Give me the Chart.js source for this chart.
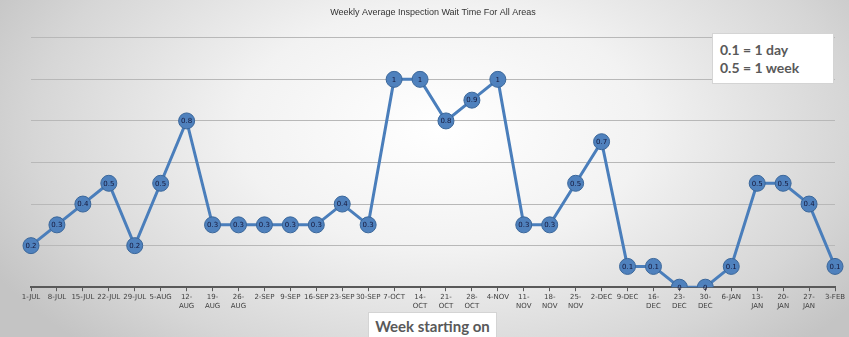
<!DOCTYPE html>
<html lang="en">
<head>
  <meta charset="UTF-8">
  <title>Weekly Average Inspection Wait Time For All Areas</title>
  <script src="https://cdn.jsdelivr.net/npm/chart.js"></script>
  <style>
    html, body { margin: 0; padding: 0; }
    body {
      width: 849px; height: 337px; overflow: hidden; position: relative;
      background: radial-gradient(ellipse 60% 90% at 52% 38%, #ffffff 0%, #f2f2f2 40%, #d6d6d6 80%, #c4c4c4 100%);
      font-family: Lato, "Open Sans", sans-serif;
    }
    #wrap { position: absolute; left: 0; top: 0; width: 849px; height: 337px; }
    .note {
      position: absolute; background: #fff; border: 1px solid #d4d4d4;
      color: #595959; font-weight: bold; font-family: Lato, sans-serif;
    }
    #key { left: 712px; top: 33px; width: 122px; height: 51px; font-size: 14px; line-height: 18px; padding: 0 0 0 7px; box-sizing: border-box; padding-top: 7px; }
    #axisTitle { left: 368px; top: 312px; width: 129px; height: 26px; font-size: 15px; line-height: 26px; text-align: center; box-sizing: border-box; }
  </style>
</head>
<body>
  <div id="wrap"><canvas id="waitChart"></canvas></div>
  <div class="note" id="key">0.1 = 1 day<br>0.5 = 1 week</div>
  <div class="note" id="axisTitle">Week starting on</div>

<script>
  // weeks (categories) and tick labels as they wrap in the original
  const weeks = ['1-JUL','8-JUL','15-JUL','22-JUL','29-JUL','5-AUG','12-AUG','19-AUG','26-AUG',
                 '2-SEP','9-SEP','16-SEP','23-SEP','30-SEP','7-OCT','14-OCT','21-OCT','28-OCT',
                 '4-NOV','11-NOV','18-NOV','25-NOV','2-DEC','9-DEC','16-DEC','23-DEC','30-DEC',
                 '6-JAN','13-JAN','20-JAN','27-JAN','3-FEB'];
  const wrapped = ['12-AUG','19-AUG','26-AUG','14-OCT','21-OCT','28-OCT','11-NOV','18-NOV','25-NOV',
                   '16-DEC','23-DEC','30-DEC','13-JAN','20-JAN','27-JAN'];

  // average wait (0.1 = 1 day)
  const waitTime = [0.2,0.3,0.4,0.5,0.2,0.5,0.8,0.3,0.3,0.3,0.3,0.3,0.4,0.3,1,1,0.8,0.9,1,
                    0.3,0.3,0.5,0.7,0.1,0.1,0,0,0.1,0.5,0.5,0.4,0.1];

  const yTicks = { min: 0, max: 1.2, step: 0.2 };

  // value written inside each marker
  const pointText = {
    id: 'pointText',
    afterDatasetsDraw(chart) {
      const ctx = chart.ctx;
      const meta = chart.getDatasetMeta(0);
      ctx.save();
      ctx.font = '7px "DejaVu Sans", sans-serif';
      ctx.fillStyle = '#15173a';
      ctx.textAlign = 'center';
      ctx.textBaseline = 'middle';
      meta.data.forEach((pt, i) => {
        ctx.fillText(String(waitTime[i]), pt.x, pt.y + 0.5);
      });
      ctx.restore();
    }
  };

  new Chart(document.getElementById('waitChart'), {
    type: 'line',
    data: {
      labels: weeks,
      datasets: [{
        data: waitTime,
        borderColor: '#4a7ebb',
        borderWidth: 3,
        pointRadius: 8,
        pointHoverRadius: 8,
        pointBackgroundColor: '#4f81bd',
        pointBorderColor: '#3a6699',
        pointBorderWidth: 1,
        tension: 0
      }]
    },
    options: {
      responsive: true,
      maintainAspectRatio: false,
      animation: false,
      layout: { padding: { left: 31, right: 14, bottom: 25, top: 0 } },
      plugins: {
        legend: { display: false },
        tooltip: { enabled: false },
        title: {
          display: true,
          text: 'Weekly Average Inspection Wait Time For All Areas',
          color: '#333',
          font: { family: '"Liberation Sans Narrow", "Liberation Sans", sans-serif', size: 9, weight: 'normal' },
          padding: { top: 7, bottom: 20 }
        }
      },
      scales: {
        x: {
          offset: false,
          grid: { drawOnChartArea: false, color: '#595959', tickLength: 4, lineWidth: 1 },
          border: { color: '#595959', width: 2 },
          ticks: {
            autoSkip: false, maxRotation: 0, padding: 2,
            color: '#404040',
            font: { family: '"DejaVu Sans", sans-serif', size: 7 },
            callback: (v, i) => wrapped.includes(weeks[i]) ? weeks[i].split('-').map((s, k) => k === 0 ? s + '-' : s) : weeks[i]
          }
        },
        y: {
          min: yTicks.min, max: yTicks.max,
          ticks: { display: false, stepSize: yTicks.step },
          border: { display: false },
          grid: { color: '#b8b8b8', lineWidth: 1, drawTicks: false }
        }
      }
    },
    plugins: [pointText]
  });
</script>
</body>
</html>
